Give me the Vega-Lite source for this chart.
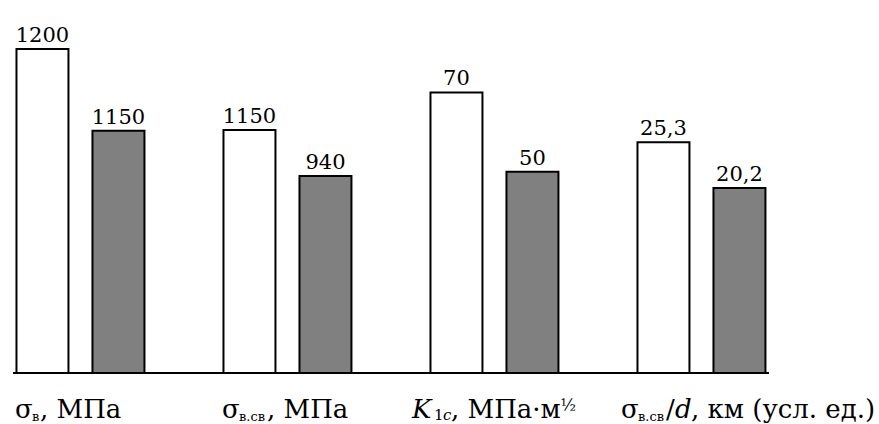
{
  "$schema": "https://vega.github.io/schema/vega-lite/v6.json",
  "width": 756,
  "height": 324,
  "autosize": {"type": "none"},
  "padding": {"left": 13, "top": 49, "right": 110, "bottom": 51},
  "background": "white",
  "config": {"font": "DejaVu Serif", "view": {"stroke": null}, "text": {"font": "DejaVu Serif", "color": "black", "baseline": "alphabetic"}},
  "datasets": {
    "bars": [
      {"param": "σв", "state": "w", "h": 100, "label": "1200"},
      {"param": "σв", "state": "g", "h": 74.8, "label": "1150"},
      {"param": "σв.св", "state": "w", "h": 75, "label": "1150"},
      {"param": "σв.св", "state": "g", "h": 60.8, "label": "940"},
      {"param": "K1c", "state": "w", "h": 86.6, "label": "70"},
      {"param": "K1c", "state": "g", "h": 62.1, "label": "50"},
      {"param": "σв.св/d", "state": "w", "h": 71.2, "label": "25,3"},
      {"param": "σв.св/d", "state": "g", "h": 57.1, "label": "20,2"}
    ],
    "one": [{"n": 1}]
  },
  "data": {"name": "bars"},
  "layer": [
    {
      "mark": {"type": "bar", "stroke": "black", "strokeWidth": 2},
      "encoding": {
        "x": {"field": "param", "type": "nominal", "axis": null, "sort": null,
              "scale": {"domain": ["σв", "σв.св", "K1c", "σв.св/d"], "range": [0, 828], "paddingInner": 0, "paddingOuter": 0}},
        "xOffset": {"field": "state", "type": "nominal", "sort": null,
              "scale": {"domain": ["w", "g"], "paddingInner": 0.316, "paddingOuter": 0.52, "align": 0.044}},
        "y": {"field": "h", "type": "quantitative", "axis": null, "scale": {"domain": [0, 100], "nice": false}},
        "fill": {"field": "state", "type": "nominal", "legend": null, "scale": {"domain": ["w", "g"], "range": ["white", "#808080"]}}
      }
    },
    {
      "mark": {"type": "text", "fontSize": 21, "dy": -7},
      "encoding": {
        "x": {"field": "param", "type": "nominal"},
        "xOffset": {"field": "state", "type": "nominal"},
        "y": {"field": "h", "type": "quantitative"},
        "text": {"field": "label"}
      }
    },
    {
      "data": {"name": "one"},
      "mark": {"type": "rule", "color": "black", "strokeWidth": 2},
      "encoding": {"y": {"datum": 0}}
    },
    {"data": {"name": "one"}, "mark": {"type": "text", "text": "σ", "fontSize": 26, "align": "left", "dx": -101.5, "dy": 45},
     "encoding": {"x": {"datum": "σв", "type": "nominal"}, "y": {"datum": 0, "type": "quantitative"}}},
    {"data": {"name": "one"}, "mark": {"type": "text", "text": "в", "fontSize": 13, "align": "left", "dx": -84.5, "dy": 48},
     "encoding": {"x": {"datum": "σв", "type": "nominal"}, "y": {"datum": 0, "type": "quantitative"}}},
    {"data": {"name": "one"}, "mark": {"type": "text", "text": ", МПа", "fontSize": 26, "align": "left", "dx": -76.5, "dy": 45},
     "encoding": {"x": {"datum": "σв", "type": "nominal"}, "y": {"datum": 0, "type": "quantitative"}}},

    {"data": {"name": "one"}, "mark": {"type": "text", "text": "σ", "fontSize": 26, "align": "left", "dx": -101.5, "dy": 45},
     "encoding": {"x": {"datum": "σв.св", "type": "nominal"}, "y": {"datum": 0, "type": "quantitative"}}},
    {"data": {"name": "one"}, "mark": {"type": "text", "text": "в.св", "fontSize": 13, "align": "left", "dx": -84.5, "dy": 48},
     "encoding": {"x": {"datum": "σв.св", "type": "nominal"}, "y": {"datum": 0, "type": "quantitative"}}},
    {"data": {"name": "one"}, "mark": {"type": "text", "text": ", МПа", "fontSize": 26, "align": "left", "dx": -56.5, "dy": 45},
     "encoding": {"x": {"datum": "σв.св", "type": "nominal"}, "y": {"datum": 0, "type": "quantitative"}}},

    {"data": {"name": "one"}, "mark": {"type": "text", "text": "K", "fontSize": 26, "fontStyle": "italic", "align": "left", "dx": -118.5, "dy": 45},
     "encoding": {"x": {"datum": "K1c", "type": "nominal"}, "y": {"datum": 0, "type": "quantitative"}}},
    {"data": {"name": "one"}, "mark": {"type": "text", "text": "1", "fontSize": 15, "align": "left", "dx": -96.5, "dy": 47},
     "encoding": {"x": {"datum": "K1c", "type": "nominal"}, "y": {"datum": 0, "type": "quantitative"}}},
    {"data": {"name": "one"}, "mark": {"type": "text", "text": "c", "fontSize": 15, "fontStyle": "italic", "align": "left", "dx": -87.5, "dy": 47},
     "encoding": {"x": {"datum": "K1c", "type": "nominal"}, "y": {"datum": 0, "type": "quantitative"}}},
    {"data": {"name": "one"}, "mark": {"type": "text", "text": ", МПа·м", "fontSize": 26, "align": "left", "dx": -79.5, "dy": 45},
     "encoding": {"x": {"datum": "K1c", "type": "nominal"}, "y": {"datum": 0, "type": "quantitative"}}},
    {"data": {"name": "one"}, "mark": {"type": "text", "text": "½", "fontSize": 16, "align": "left", "dx": 30, "dy": 38},
     "encoding": {"x": {"datum": "K1c", "type": "nominal"}, "y": {"datum": 0, "type": "quantitative"}}},

    {"data": {"name": "one"}, "mark": {"type": "text", "text": "σ", "fontSize": 26, "align": "left", "dx": -116.5, "dy": 45},
     "encoding": {"x": {"datum": "σв.св/d", "type": "nominal"}, "y": {"datum": 0, "type": "quantitative"}}},
    {"data": {"name": "one"}, "mark": {"type": "text", "text": "в.св", "fontSize": 13, "align": "left", "dx": -99.5, "dy": 48},
     "encoding": {"x": {"datum": "σв.св/d", "type": "nominal"}, "y": {"datum": 0, "type": "quantitative"}}},
    {"data": {"name": "one"}, "mark": {"type": "text", "text": "/", "fontSize": 26, "align": "left", "dx": -71.5, "dy": 45},
     "encoding": {"x": {"datum": "σв.св/d", "type": "nominal"}, "y": {"datum": 0, "type": "quantitative"}}},
    {"data": {"name": "one"}, "mark": {"type": "text", "text": "d", "fontSize": 26, "fontStyle": "italic", "align": "left", "dx": -62.5, "dy": 45},
     "encoding": {"x": {"datum": "σв.св/d", "type": "nominal"}, "y": {"datum": 0, "type": "quantitative"}}},
    {"data": {"name": "one"}, "mark": {"type": "text", "text": ", км (усл. ед.)", "fontSize": 26, "align": "left", "dx": -46.5, "dy": 45},
     "encoding": {"x": {"datum": "σв.св/d", "type": "nominal"}, "y": {"datum": 0, "type": "quantitative"}}}
  ]
}
